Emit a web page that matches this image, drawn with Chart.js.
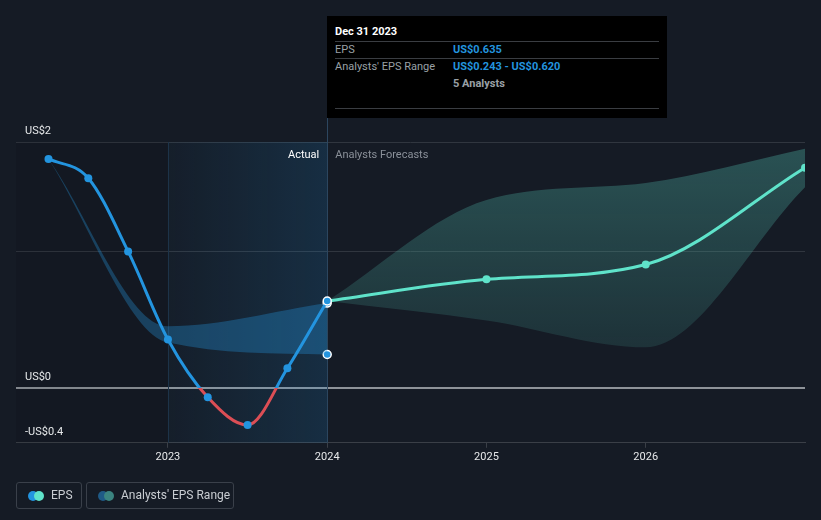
<!DOCTYPE html>
<html><head><meta charset="utf-8">
<script src="https://cdn.jsdelivr.net/npm/chart.js@4/dist/chart.umd.min.js"></script>
<style>
html,body{margin:0;padding:0;background:#151b25;}
#wrap{position:relative;width:821px;height:520px;font-family:Roboto,"Noto Sans",sans-serif;}
canvas{position:absolute;left:0;top:0;}
#tip{position:absolute;left:327px;top:16px;width:340px;height:102px;background:#000;color:#fff;font-size:11px;box-sizing:border-box;}
#tip .row{position:absolute;left:8px;width:324px;}
#tip .sep{position:absolute;left:8px;width:324px;height:1px;background:#3a3d42;}
#tip .lab{position:absolute;left:0;color:#9aa0a6;}
#tip .val{position:absolute;left:118px;color:#2394df;font-weight:bold;}
.leg{position:absolute;top:482px;height:27px;border:1px solid #3a404a;border-radius:3px;box-sizing:border-box;color:#c9cdd2;font-size:12px;line-height:25px;}
.dot{position:absolute;top:8px;width:10px;height:10px;border-radius:50%;}
</style></head>
<body><div id="wrap"><canvas id="c" width="821" height="520"></canvas>
<div id="tip">
 <div class="row" style="top:9px;font-weight:bold;color:#fff;">Dec 31 2023</div>
 <div class="sep" style="top:25px"></div>
 <div class="row" style="top:27px"><span class="lab">EPS</span><span class="val" id="v1"></span></div>
 <div class="sep" style="top:42px"></div>
 <div class="row" style="top:44px"><span class="lab">Analysts' EPS Range</span><span class="val" id="v2"></span></div>
 <div class="row" style="top:61px"><span class="val" style="color:#9aa0a6" id="v3"></span></div>
 <div class="sep" style="top:92px"></div>
</div>
<div class="leg" style="left:16px;width:66px;"><span class="dot" style="left:11px;background:#2394df"></span><span class="dot" style="left:17px;background:#5fe3ca"></span><span style="position:absolute;left:34px">EPS</span></div>
<div class="leg" style="left:86px;width:148px;"><span class="dot" style="left:11px;background:#1f5a86"></span><span class="dot" style="left:17px;background:#3b8480"></span><span style="position:absolute;left:34px">Analysts' EPS Range</span></div>
</div>
<script>
// ---- data ----
const epsX = [2022.25, 2022.5, 2022.75, 2023.0, 2023.25, 2023.5, 2023.75, 2024.0];
const epsY = [1.676, 1.535, 0.998, 0.353, -0.071, -0.274, 0.142, 0.635];
const fcX = [2024, 2025, 2026, 2027];
const fcY = [0.635, 0.794, 0.902, 1.612];
const pastRangeX = [2022.25, 2023, 2024];
const pastHigh = [1.676, 0.45, 0.620];
const pastLow = [1.676, 0.33, 0.243];
const fcRangeX = [2024, 2025, 2026, 2027];
const fcHigh = [0.635, 1.375, 1.50, 1.75];
const fcLow = [0.635, 0.493, 0.296, 1.468];
const xTicks = [2023, 2024, 2025, 2026];
const yGrid = [-0.404, 0, 1.0, 1.8];
const yLabels = [[1.8, "US$2"], [0, "US$0"], [-0.404, "-US$0.4"]];
const tipDate = "Dec 31 2023";
const tipEps = "US$0.635";
const tipRange = "US$0.243 - US$0.620";
const tipAnalysts = "5 Analysts";

document.getElementById('v1').textContent = tipEps;
document.getElementById('v2').textContent = tipRange;
document.getElementById('v3').textContent = tipAnalysts;

const BLUE = '#2394df', RED = '#dc4e55', TEAL = '#5fe3ca';
const pts = (xs, ys) => xs.map((x, i) => ({x, y: ys[i]}));

function epsColor(ctx){
  const ch = ctx.chart, a = ch.chartArea;
  if (!a) return BLUE;
  const y0 = ch.scales.y.getPixelForValue(0);
  const s = Math.min(1, Math.max(0, (y0 - a.top) / (a.bottom - a.top)));
  const g = ch.ctx.createLinearGradient(0, a.top, 0, a.bottom);
  g.addColorStop(0, BLUE); g.addColorStop(s, BLUE); g.addColorStop(s, RED); g.addColorStop(1, RED);
  return g;
}
function fcFill(ctx){
  const ch = ctx.chart, a = ch.chartArea;
  if (!a) return 'rgba(80,170,160,0.25)';
  const g = ch.ctx.createLinearGradient(0, a.top, 0, a.top + 220);
  g.addColorStop(0, 'rgba(72,160,150,0.42)');
  g.addColorStop(1, 'rgba(72,160,150,0.16)');
  return g;
}

const bgPlugin = {
  id: 'bg',
  beforeDatasetsDraw(ch){
    const c = ch.ctx, a = ch.chartArea, x = ch.scales.x, y = ch.scales.y;
    const x0 = x.getPixelForValue(2023), x1 = x.getPixelForValue(2024);
    c.save();
    c.fillStyle = 'rgba(0,0,0,0.08)';
    c.fillRect(a.left, a.top, x0 - a.left, a.bottom - a.top);
    const g = c.createLinearGradient(x0, 0, x1, 0);
    g.addColorStop(0, 'rgba(35,148,223,0.03)');
    g.addColorStop(1, 'rgba(35,148,223,0.16)');
    c.fillStyle = g;
    c.fillRect(x0, a.top, x1 - x0, a.bottom - a.top);
    c.strokeStyle = '#1d3349'; c.lineWidth = 1;
    c.beginPath(); c.moveTo(Math.round(x0)+0.5, a.top); c.lineTo(Math.round(x0)+0.5, a.bottom); c.stroke();
    c.strokeStyle = '#2c465f';
    c.beginPath(); c.moveTo(Math.round(x1)+0.5, 118); c.lineTo(Math.round(x1)+0.5, a.bottom); c.stroke();
    c.restore();
  },
  afterDraw(ch){
    const c = ch.ctx, a = ch.chartArea, x = ch.scales.x, y = ch.scales.y;
    c.save();
    c.font = '11px Roboto';
    c.fillStyle = '#e6e8ea';
    c.textBaseline = 'alphabetic';
    yLabels.forEach(([v, t]) => { c.fillText(t, 25, y.getPixelForValue(v) - 8); });
    const x1 = x.getPixelForValue(2024);
    c.textAlign = 'right'; c.fillStyle = '#ffffff';
    c.fillText('Actual', x1 - 8, a.top + 16);
    c.textAlign = 'left'; c.fillStyle = '#8a9099';
    c.fillText('Analysts Forecasts', x1 + 8, a.top + 16);
    c.restore();
  }
};

new Chart(document.getElementById('c'), {
  type: 'line',
  data: {
    datasets: [
      { data: pts(epsX, epsY), borderColor: epsColor, borderWidth: 3, cubicInterpolationMode: 'monotone',
        pointRadius: 4, pointBackgroundColor: BLUE, pointBorderWidth: (c)=> c.dataIndex === epsX.length-1 ? 1.5 : 0,
        pointBorderColor: '#ffffff', fill: false, order: 1 },
      { data: pts(fcX, fcY), borderColor: TEAL, borderWidth: 3, cubicInterpolationMode: 'monotone',
        pointRadius: (c)=> c.dataIndex === 0 ? 0 : 4, pointBackgroundColor: TEAL, pointBorderWidth: 0, fill: false, order: 2 },
      { data: pts(pastRangeX, pastHigh), borderWidth: 0, borderColor: 'rgba(35,148,223,0.5)', cubicInterpolationMode: 'monotone',
        pointRadius: (c)=> c.dataIndex === 2 ? 4 : 0, pointBackgroundColor: BLUE, pointBorderColor: '#fff', pointBorderWidth: 1.5,
        fill: '+1', backgroundColor: 'rgba(35,148,223,0.33)', order: 3 },
      { data: pts(pastRangeX, pastLow), borderWidth: 0, cubicInterpolationMode: 'monotone',
        pointRadius: (c)=> c.dataIndex === 2 ? 4 : 0, pointBackgroundColor: BLUE, pointBorderColor: '#fff', pointBorderWidth: 1.5,
        fill: false, order: 4 },
      { data: pts(fcRangeX, fcHigh), borderWidth: 0, cubicInterpolationMode: 'monotone', pointRadius: 0,
        fill: '+1', backgroundColor: fcFill, order: 5 },
      { data: pts(fcRangeX, fcLow), borderWidth: 0, cubicInterpolationMode: 'monotone', pointRadius: 0, fill: false, order: 6 }
    ]
  },
  options: {
    responsive: false, animation: false, devicePixelRatio: 1,
    layout: { padding: { left: 16, right: 16, top: 142, bottom: 53 } },
    plugins: { legend: { display: false }, tooltip: { enabled: false } },
    scales: {
      x: { type: 'linear', min: 2022.046, max: 2027,
        afterBuildTicks: (s) => { s.ticks = xTicks.map(v => ({value: v})); },
        ticks: { color: '#e6e8ea', font: { family: 'Roboto', size: 11 }, padding: 3, maxRotation: 0,
          callback: (v) => String(v) },
        grid: { drawOnChartArea: false, drawTicks: true, tickLength: 5, color: '#3a3f47' },
        border: { display: true, color: '#3a3f47', width: 1 } },
      y: { min: -0.404, max: 1.8,
        afterBuildTicks: (s) => { s.ticks = yGrid.map(v => ({value: v})); },
        ticks: { display: false },
        grid: { drawTicks: false, color: (c) => c.tick && c.tick.value === 0 ? '#8e9399' : '#30363f',
          lineWidth: (c) => c.tick && c.tick.value === 0 ? 2 : 1 },
        border: { display: false } }
    }
  },
  plugins: [bgPlugin]
});
</script></body></html>
